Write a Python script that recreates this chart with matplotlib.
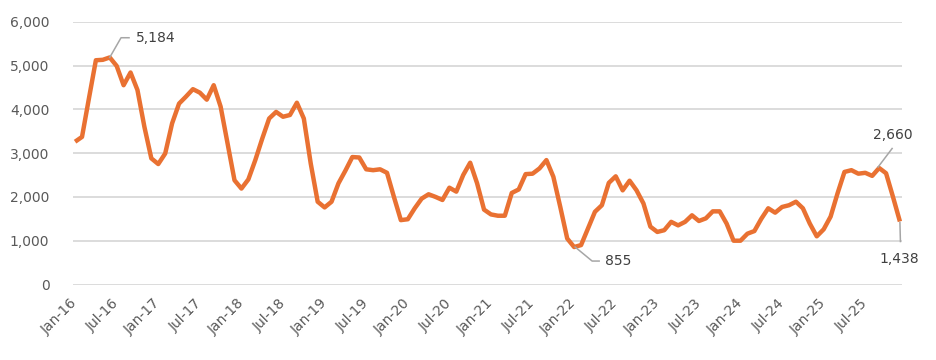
import matplotlib
matplotlib.use("Agg")
import matplotlib.pyplot as plt
from matplotlib.lines import Line2D

plt.rcParams['font.family'] = ['DejaVu Sans']

values = [3260, 3370, 4250, 5120, 5130, 5184, 4990, 4550, 4840, 4440,
          3600, 2880, 2750, 2990, 3680, 4130, 4290, 4460, 4380, 4220,
          4550, 4060, 3220, 2380, 2190, 2400, 2840, 3330, 3790, 3940,
          3830, 3870, 4150, 3790, 2760, 1890, 1760, 1890, 2310, 2600,
          2910, 2900, 2630, 2610, 2630, 2550, 2000, 1470, 1490, 1740,
          1960, 2060, 2000, 1930, 2210, 2120, 2500, 2780, 2310, 1710,
          1600, 1570, 1570, 2090, 2170, 2520, 2530, 2650, 2840, 2460,
          1770, 1050, 855, 900, 1280, 1660, 1810, 2320, 2470, 2150,
          2370, 2150, 1850, 1320, 1200, 1240, 1430, 1350, 1430, 1580,
          1450, 1510, 1670, 1670, 1390, 1000, 1000, 1160, 1220, 1500,
          1740, 1640, 1770, 1810, 1890, 1740, 1390, 1100, 1260, 1550,
          2080, 2570, 2610, 2530, 2550, 2480, 2660, 2540, 2000, 1438]

tick_labels = []
for yr in range(16, 26):
    tick_labels += [f"Jan-{yr}", f"Jul-{yr}"]

y_ticks = [0, 1000, 2000, 3000, 4000, 5000, 6000]

# annotated points: (index, label)
annotations = [(5, "5,184"), (72, "855"), (116, "2,660"), (119, "1,438")]

LINE_COLOR = "#E97132"
TEXT_COLOR = "#595959"
ANN_COLOR = "#404040"
LEADER_COLOR = "#A6A6A6"
GRID_COLOR = "#D9D9D9"

fig = plt.figure(figsize=(9.36, 3.6), dpi=100)
ax = fig.add_axes([73/936, 1 - 284.5/360, (902-73)/936, (284.5-21.7)/360])

x = list(range(len(values)))
ax.plot(x, values, color=LINE_COLOR, lw=3.2, solid_joinstyle='round', solid_capstyle='butt', zorder=3)

ax.set_ylim(0, 6000)
ax.set_xlim(-0.3, len(values) - 1 + 0.3)
ax.set_yticks(y_ticks)
ax.set_yticklabels([f"{v:,}" for v in y_ticks])
ax.set_xticks(list(range(0, len(values), 6)))
ax.set_xticklabels(tick_labels, rotation=45, ha='right', va='center', rotation_mode='anchor')

ax.grid(axis='y', color=GRID_COLOR, lw=1.3)
ax.set_axisbelow(True)
for s in ax.spines.values():
    s.set_visible(False)
ax.tick_params(axis='both', length=0, colors=TEXT_COLOR, labelsize=10)
ax.tick_params(axis='y', pad=17)
ax.tick_params(axis='x', pad=12)

# leader lines and labels, offsets in pixels (y up)
leaders = {
    5: ([(0, 0), (11.3, 19.7), (19.3, 19.7)], (26, 19.5), 'left'),
    72: ([(1, 0), (18, -14), (25, -14)], (31, -14), 'left'),
    116: ([(-1, 1), (13, 19.5)], (14, 33), 'center'),
    119: ([(0, -1), (0.5, -20)], (-1, -37), 'center'),
}

fig.canvas.draw()
inv = fig.transFigure.inverted()
for idx, label in annotations:
    px, py = ax.transData.transform((idx, values[idx]))
    path, toff, ha = leaders[idx]
    pts = [inv.transform((px + dx, py + dy)) for dx, dy in path]
    fig.add_artist(Line2D([p[0] for p in pts], [p[1] for p in pts], color=LEADER_COLOR, lw=1.1, zorder=4))
    tx, ty = inv.transform((px + toff[0], py + toff[1]))
    fig.text(tx, ty, label, ha=ha, va='center', color=ANN_COLOR, fontsize=10)

fig.savefig("out.png", dpi=100)
